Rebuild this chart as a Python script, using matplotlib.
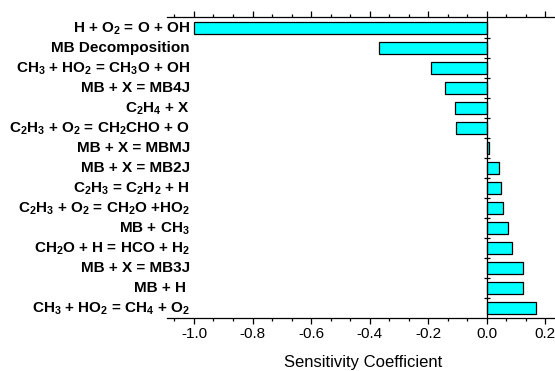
import matplotlib
matplotlib.use("Agg")
import matplotlib.pyplot as plt
from matplotlib.ticker import MultipleLocator, FormatStrFormatter
import matplotlib.transforms as mtransforms

plt.rcParams['font.family'] = ['Liberation Sans', 'DejaVu Sans']
plt.rcParams['axes.unicode_minus'] = False
plt.rcParams['mathtext.fontset'] = 'custom'
plt.rcParams['mathtext.rm'] = 'Liberation Sans:bold'
plt.rcParams['mathtext.bf'] = 'Liberation Sans:bold'
plt.rcParams['mathtext.default'] = 'rm'

reactions = [
    r'H + O$_2$ = O + OH',
    'MB Decomposition',
    r'CH$_3$ + HO$_2$ = CH$_3$O + OH',
    'MB + X = MB4J',
    r'C$_2$H$_4$ + X ',
    r'C$_2$H$_3$ + O$_2$ = CH$_2$CHO + O',
    'MB + X = MBMJ',
    'MB + X = MB2J',
    r'C$_2$H$_3$ = C$_2$H$_2$ + H',
    r'C$_2$H$_3$ + O$_2$ = CH$_2$O +HO$_2$',
    r'MB + CH$_3$',
    r'CH$_2$O + H = HCO + H$_2$',
    'MB + X = MB3J',
    'MB + H ',
    r'CH$_3$ + HO$_2$ = CH$_4$ + O$_2$',
]
sensitivity = [-1.0, -0.367, -0.191, -0.141, -0.109, -0.104, 0.007,
               0.041, 0.047, 0.057, 0.074, 0.085, 0.124, 0.124, 0.168]

fig = plt.figure(figsize=(5.55, 3.71), dpi=100)
W, H = 555, 371
ax = fig.add_axes([167 / W, (H - 318.3) / H, 393 / W, (318.3 - 17.3) / H])

ypos = list(range(len(reactions)))
ax.barh(ypos, sensitivity, height=0.6, left=0,
        color='#00FFFF', edgecolor='black', linewidth=0.9, zorder=3)

ax.set_xlim(-1.092, 0.25)
ax.set_ylim(14.5, -0.56)

ax.spines['right'].set_visible(False)
ax.spines['left'].set_position(('data', 0))
for s in ['left', 'top', 'bottom']:
    ax.spines[s].set_linewidth(0.9)
    ax.spines[s].set_zorder(4)

ax.xaxis.set_major_locator(MultipleLocator(0.2))
ax.xaxis.set_minor_locator(MultipleLocator(0.2 / 3))
ax.xaxis.set_major_formatter(FormatStrFormatter('%.1f'))
ax.tick_params(axis='x', which='both', direction='out', top=True, labeltop=False,
               width=0.9, labelsize=11, pad=1.5)
ax.tick_params(axis='x', which='major', length=4.5)
ax.tick_params(axis='x', which='minor', length=2.2)

ax.set_yticks([y + 0.5 for y in ypos[:-1]])
ax.set_yticklabels([])
ax.tick_params(axis='y', which='both', direction='inout', length=5, width=0.9,
               left=True, right=False)
ax.yaxis.set_minor_locator(plt.NullLocator())

trans = mtransforms.blended_transform_factory(fig.transFigure, ax.transData)
for y, lab in zip(ypos, reactions):
    ax.text(190 / W, y, lab, transform=trans, ha='right', va='center',
            fontsize=11, fontweight='bold', clip_on=False)

ax.set_xlabel('Sensitivity Coefficient', fontsize=12, labelpad=10)

fig.savefig('out.png', dpi=100)
